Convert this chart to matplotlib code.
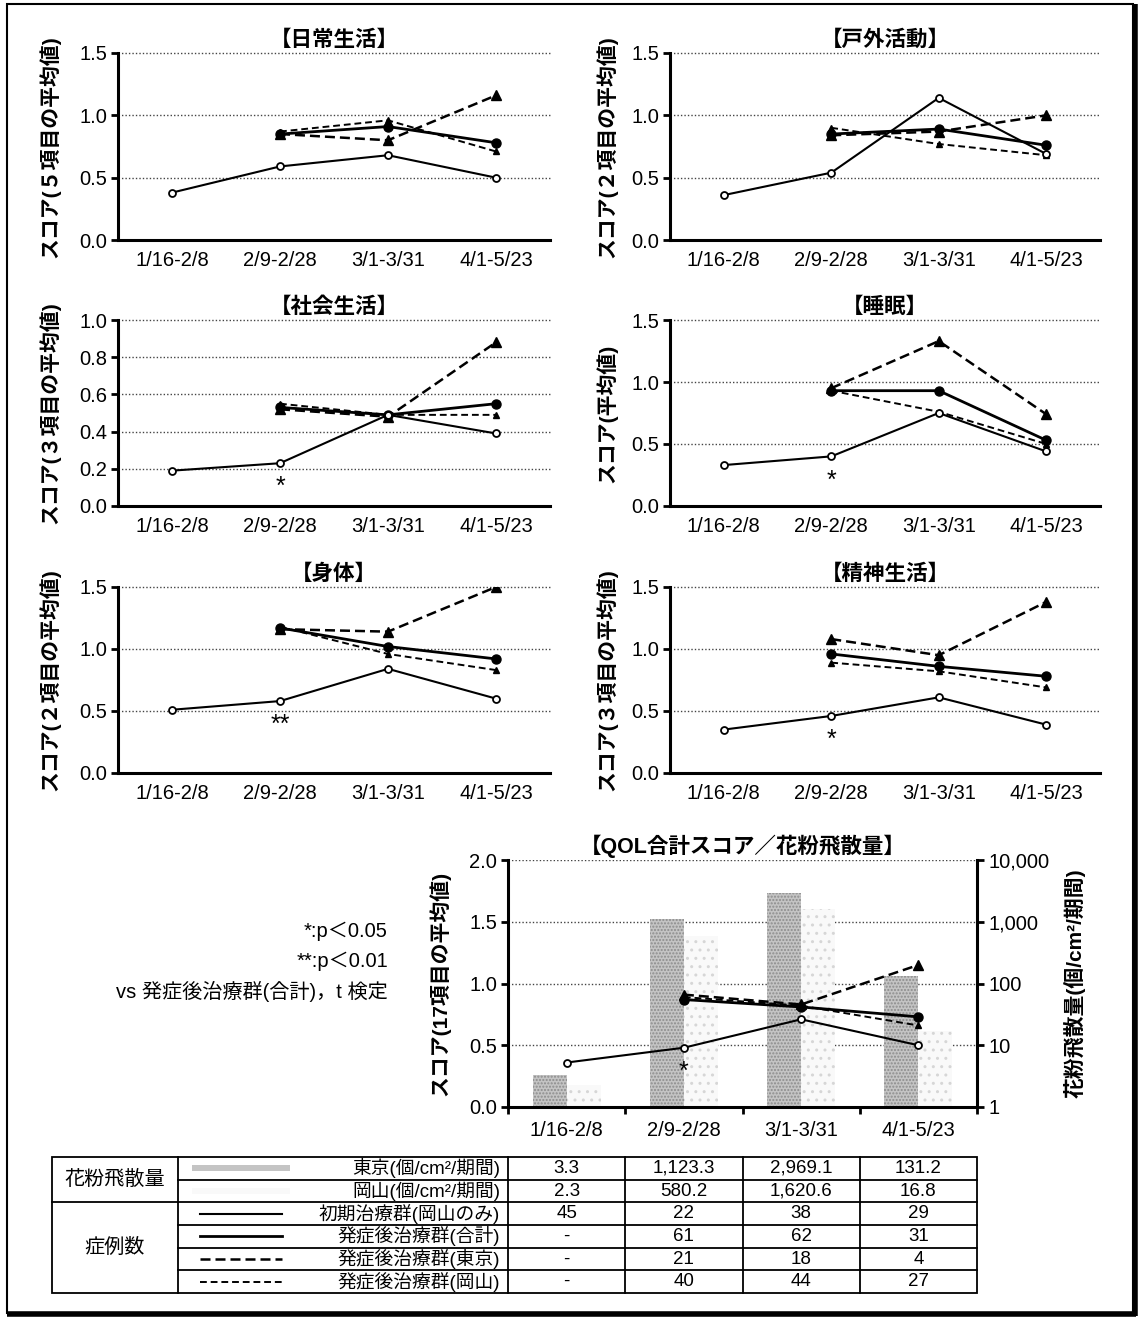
import numpy as np
import matplotlib
matplotlib.use("Agg")
import matplotlib.pyplot as plt
from matplotlib.patches import Rectangle
from matplotlib.ticker import FixedLocator, FuncFormatter, NullLocator

plt.rcParams['font.family'] = ['Liberation Sans', 'Noto Sans CJK JP', 'DejaVu Sans']

W, H = 1141, 1319
nan = np.nan

periods = ['1/16-2/8', '2/9-2/28', '3/1-3/31', '4/1-5/23']

# スコア: 初期治療群(岡山のみ) / 発症後治療群(合計) / (東京) / (岡山)
nichijo_init = [0.38, 0.59, 0.68, 0.50]
nichijo_total = [nan, 0.85, 0.91, 0.78]
nichijo_tokyo = [nan, 0.85, 0.80, 1.16]
nichijo_okayama = [nan, 0.87, 0.96, 0.71]

kogai_init = [0.36, 0.54, 1.14, 0.69]
kogai_total = [nan, 0.85, 0.89, 0.76]
kogai_tokyo = [nan, 0.84, 0.87, 1.00]
kogai_okayama = [nan, 0.90, 0.77, 0.68]

shakai_init = [0.19, 0.23, 0.49, 0.39]
shakai_total = [nan, 0.53, 0.49, 0.55]
shakai_tokyo = [nan, 0.52, 0.48, 0.88]
shakai_okayama = [nan, 0.55, 0.49, 0.49]

suimin_init = [0.33, 0.40, 0.75, 0.44]
suimin_total = [nan, 0.93, 0.93, 0.53]
suimin_tokyo = [nan, 0.95, 1.33, 0.74]
suimin_okayama = [nan, 0.93, 0.76, 0.50]

shintai_init = [0.51, 0.58, 0.84, 0.60]
shintai_total = [nan, 1.17, 1.02, 0.92]
shintai_tokyo = [nan, 1.16, 1.14, 1.50]
shintai_okayama = [nan, 1.18, 0.96, 0.83]

seishin_init = [0.35, 0.46, 0.61, 0.39]
seishin_total = [nan, 0.96, 0.86, 0.78]
seishin_tokyo = [nan, 1.08, 0.95, 1.38]
seishin_okayama = [nan, 0.89, 0.82, 0.69]

qol_init = [0.36, 0.48, 0.71, 0.50]
qol_total = [nan, 0.87, 0.81, 0.73]
qol_tokyo = [nan, 0.91, 0.83, 1.15]
qol_okayama = [nan, 0.89, 0.82, 0.66]

# 花粉飛散量 (個/cm2/期間)
pollen_tokyo = [3.3, 1123.3, 2969.1, 131.2]
pollen_okayama = [2.3, 580.2, 1620.6, 16.8]

# 症例数
n_init = [45, 22, 38, 29]
n_total = [None, 61, 62, 31]
n_tokyo = [None, 21, 18, 4]
n_okayama = [None, 40, 44, 27]

group_names = ['初期治療群(岡山のみ)', '発症後治療群(合計)', '発症後治療群(東京)', '発症後治療群(岡山)']
pollen_names = ['東京(個/cm²/期間)', '岡山(個/cm²/期間)']

st_init = dict(color='black', lw=1.5, ls='-', marker='o', ms=5, mfc='white', mec='black', mew=1.3)
st_total = dict(color='black', lw=2.0, ls='-', marker='o', ms=6.5, mfc='black', mec='black')
st_tokyo = dict(color='black', lw=1.8, ls=(0, (4, 2)), marker='^', ms=7.5, mfc='black', mec='black')
st_okayama = dict(color='black', lw=1.4, ls=(0, (3.5, 2)), marker='^', ms=5, mfc='black', mec='black')
bar_tokyo = dict(color='#c4c4c4', edgecolor='#8c8c8c', hatch='.....', linewidth=0)
bar_okayama = dict(color='#f9f9f9', edgecolor='#d6d6d6', hatch='..', linewidth=0)
grid_st = dict(color='#444444', linestyle=(0, (1, 1.5)), linewidth=1.0)

fig = plt.figure(figsize=(W / 100, H / 100), dpi=100)


def px_axes(l, t, r, b):
    return fig.add_axes([l / W, 1 - b / H, (r - l) / W, (b - t) / H])


panels = [
    ('【日常生活】', 'スコア(５項目の平均値)', 1.5, 0.5, (118, 53, 550, 240),
     (nichijo_init, nichijo_total, nichijo_tokyo, nichijo_okayama), None),
    ('【戸外活動】', 'スコア(２項目の平均値)', 1.5, 0.5, (670, 53, 1100, 240),
     (kogai_init, kogai_total, kogai_tokyo, kogai_okayama), None),
    ('【社会生活】', 'スコア(３項目の平均値)', 1.0, 0.2, (118, 320, 550, 506),
     (shakai_init, shakai_total, shakai_tokyo, shakai_okayama), '*'),
    ('【睡眠】', 'スコア(平均値)', 1.5, 0.5, (670, 320, 1100, 506),
     (suimin_init, suimin_total, suimin_tokyo, suimin_okayama), '*'),
    ('【身体】', 'スコア(２項目の平均値)', 1.5, 0.5, (118, 587, 550, 773),
     (shintai_init, shintai_total, shintai_tokyo, shintai_okayama), '**'),
    ('【精神生活】', 'スコア(３項目の平均値)', 1.5, 0.5, (670, 587, 1100, 773),
     (seishin_init, seishin_total, seishin_tokyo, seishin_okayama), '*'),
]

x = np.arange(len(periods))
TICK_FS = 14.5
TITLE_FS = 15.5
LAB_FS = 15


def draw_lines(ax, series, sig):
    s_init, s_total, s_tokyo, s_okayama = series
    ax.plot(x, s_tokyo, **st_tokyo, zorder=3)
    ax.plot(x, s_okayama, **st_okayama, zorder=3)
    ax.plot(x, s_total, **st_total, zorder=4)
    ax.plot(x, s_init, **st_init, zorder=5)
    if sig:
        ax.annotate(sig, xy=(1, s_init[1]), xytext=(0, -24), textcoords='offset pixels',
                    ha='center', va='center', fontsize=18)


for title, ylab, ymax, ystep, (l, t, r, b), series, sig in panels:
    ax = px_axes(l, t, r, b)
    draw_lines(ax, series, sig)
    ax.set_xlim(-0.5, 3.5)
    ax.set_ylim(0, ymax)
    ticks = np.round(np.arange(0, ymax + 1e-9, ystep), 2)
    ax.set_yticks(ticks)
    ax.set_yticklabels(['%.1f' % v for v in ticks])
    ax.set_xticks(x)
    ax.set_xticklabels(periods)
    for v in ticks[1:]:
        ax.axhline(v, **grid_st, zorder=1, clip_on=False)
    for s in ['top', 'right']:
        ax.spines[s].set_visible(False)
    for s in ['left', 'bottom']:
        ax.spines[s].set_linewidth(2.2)
    ax.tick_params(axis='x', length=0, pad=8, labelsize=TICK_FS)
    ax.tick_params(axis='y', length=5, width=2, direction='out', labelsize=TICK_FS, pad=3)
    ax.set_title(title, fontsize=TITLE_FS, fontweight='bold', pad=5)
    ax.set_ylabel(ylab, fontsize=LAB_FS, fontweight='bold', va='center')
    off = 68 if l < 600 else 63
    ax.yaxis.set_label_coords(-off / (r - l), 0.5)

# QOL合計スコア／花粉飛散量
l, t, r, b = 508, 860, 977, 1107
ax = px_axes(l, t, r, b)
ax2 = ax.twinx()
ax2.set_yscale('log')
ax2.set_ylim(1, 1e4)
bw = 0.29
ax2.bar(x - bw / 2, np.array(pollen_tokyo) - 1, bottom=1, width=bw, **bar_tokyo)
ax2.bar(x + bw / 2, np.array(pollen_okayama) - 1, bottom=1, width=bw, **bar_okayama)
ax2.yaxis.set_major_locator(FixedLocator([1, 10, 100, 1000, 10000]))
ax2.yaxis.set_minor_locator(NullLocator())
ax2.yaxis.set_major_formatter(FuncFormatter(lambda v, p: f'{int(round(v)):,}'))
ax2.set_axisbelow(True)
ax2.yaxis.grid(True, **grid_st)
ax2.tick_params(axis='y', length=5, width=2, direction='out', labelsize=TICK_FS, pad=3)
for s in ['top', 'left', 'bottom']:
    ax2.spines[s].set_visible(False)
ax2.spines['right'].set_linewidth(2.2)
ax2.set_ylabel('花粉飛散量(個/cm²/期間)', fontsize=LAB_FS, fontweight='bold', rotation=90, va='center')
ax2.yaxis.set_label_coords(1 + 98 / (r - l), 0.5)

ax.set_zorder(ax2.get_zorder() + 1)
ax.patch.set_visible(False)
draw_lines(ax, (qol_init, qol_total, qol_tokyo, qol_okayama), '*')
ax.set_xlim(-0.5, 3.5)
ax.set_ylim(0, 2.0)
ax.set_yticks([0, 0.5, 1.0, 1.5, 2.0])
ax.set_yticklabels(['0.0', '0.5', '1.0', '1.5', '2.0'])
ax.set_xticks(x)
ax.set_xticklabels(periods)
ax.set_xticks(np.arange(-0.5, 3.6, 1), minor=True)
ax.tick_params(axis='x', which='major', length=0, pad=10, labelsize=TICK_FS)
ax.tick_params(axis='x', which='minor', length=5, width=2, direction='out')
ax.tick_params(axis='y', length=5, width=2, direction='out', labelsize=TICK_FS, pad=3)
for s in ['top', 'right']:
    ax.spines[s].set_visible(False)
for s in ['left', 'bottom']:
    ax.spines[s].set_linewidth(2.2)
ax.set_title('【QOL合計スコア／花粉飛散量】', fontsize=TITLE_FS, fontweight='bold', pad=5)
ax.set_ylabel('スコア(17項目の平均値)', fontsize=LAB_FS, fontweight='bold', va='center')
ax.yaxis.set_label_coords(-68 / (r - l), 0.5)

# overlay: frame, notes and table (pixel coordinates)
tax = fig.add_axes([0, 0, 1, 1], zorder=-1)
tax.set_xlim(0, W)
tax.set_ylim(H, 0)
tax.axis('off')

tax.add_patch(Rectangle((7, 4), 1126, 1309, fill=False, lw=1.5, ec='black'))
tax.plot([7, 1136], [1314, 1314], color='black', lw=4, solid_capstyle='butt')
tax.plot([1135, 1135], [4, 1316], color='black', lw=4, solid_capstyle='butt')

notes = ['*:p＜0.05', '**:p＜0.01', 'vs 発症後治療群(合計)，t 検定']
for i, txt in enumerate(notes):
    tax.text(388, 931 + 30 * i, txt, ha='right', va='center', fontsize=14.5)

col_edges = [l + (r - l) * k / 4 for k in range(5)]
tab_l, tab_c1, tab_c2 = 52, 178, col_edges[0]
rows = np.linspace(1157, 1293, 7)
lw_t = 1.3
tax.add_patch(Rectangle((tab_l, rows[0]), col_edges[-1] - tab_l, rows[-1] - rows[0],
                        fill=False, lw=lw_t, ec='black'))
for xe in [tab_c1] + col_edges[1:-1] + [tab_c2]:
    tax.plot([xe, xe], [rows[0], rows[-1]], color='black', lw=lw_t)
tax.plot([tab_l, col_edges[-1]], [rows[2], rows[2]], color='black', lw=lw_t)
for yr in [rows[1], rows[3], rows[4], rows[5]]:
    tax.plot([tab_c1, col_edges[-1]], [yr, yr], color='black', lw=lw_t)

tfs = 13.5
tax.text((tab_l + tab_c1) / 2, rows[2] - (rows[2] - rows[0]) / 2, '花粉飛散量', ha='center', va='center',
         fontsize=14.5)
tax.text((tab_l + tab_c1) / 2, (rows[2] + rows[6]) / 2, '症例数', ha='center', va='center', fontsize=14.5)

row_labels = pollen_names + group_names
row_values = [
    [f'{v:,.1f}' for v in pollen_tokyo],
    [f'{v:,.1f}' for v in pollen_okayama],
] + [['-' if v is None else str(v) for v in vals] for vals in (n_init, n_total, n_tokyo, n_okayama)]
centers = (rows[:-1] + rows[1:]) / 2
for i, (lab, vals) in enumerate(zip(row_labels, row_values)):
    yc = centers[i]
    tax.text(tab_c2 - 8, yc, lab, ha='right', va='center', fontsize=tfs)
    for k, v in enumerate(vals):
        tax.text((col_edges[k] + col_edges[k + 1]) / 2, yc, v, ha='center', va='center', fontsize=13.5)

# legend swatches
tax.add_patch(Rectangle((192, centers[0] - 3), 98, 6, **bar_tokyo))
tax.add_patch(Rectangle((192, centers[1] - 3), 98, 6, **bar_okayama))
for i, stl in enumerate([st_init, st_total, st_tokyo, st_okayama]):
    sw = {k: v for k, v in stl.items() if k in ('color', 'lw', 'ls')}
    tax.plot([200, 282], [centers[2 + i]] * 2, **sw)

fig.savefig('out.png', dpi=100)
